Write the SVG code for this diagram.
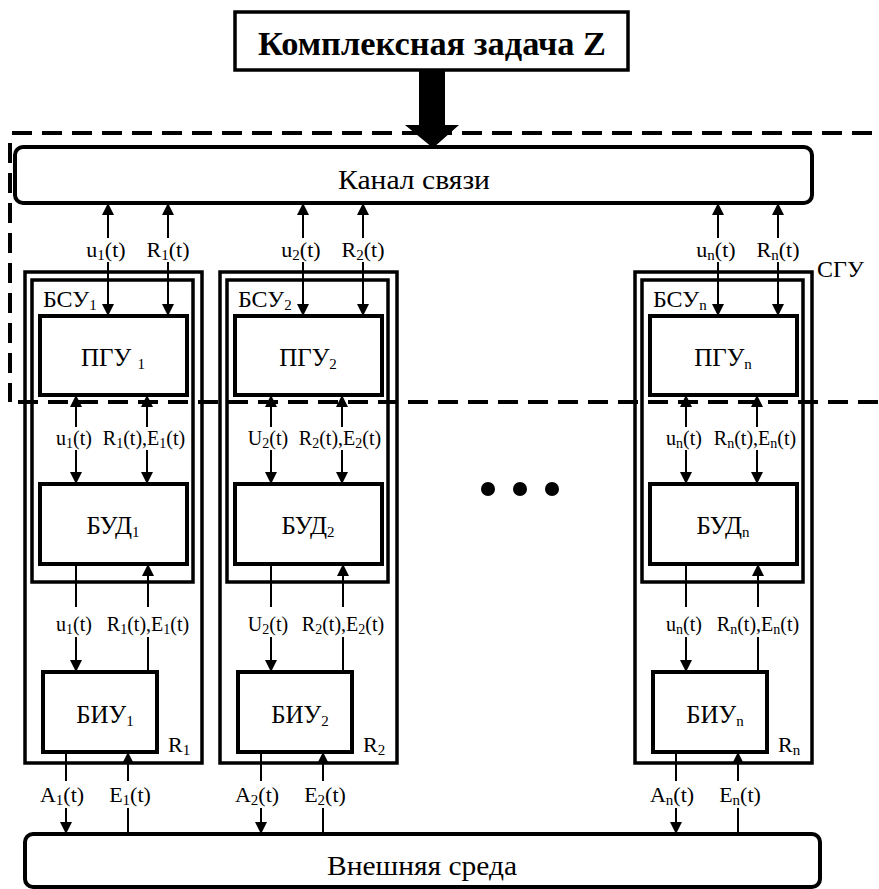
<svg xmlns="http://www.w3.org/2000/svg" width="879" height="889" viewBox="0 0 879 889">
<style>
text{font-family:"Liberation Serif","Times New Roman",serif;fill:#000}
.lbl{font-size:22px;text-anchor:middle}
.lbs{font-size:20px;text-anchor:middle}
.box{fill:#fff;stroke:#000;stroke-width:4}
.frame{fill:none;stroke:#000;stroke-width:3.5}
.bl{font-size:25px;text-anchor:middle}
.sub{font-size:15px}
.sb{font-size:14px}
.ln{stroke:#000;stroke-width:2;fill:none}
.ar{stroke:#000;stroke-width:2;fill:none;marker-end:url(#ah)}
.dash{stroke:#000;stroke-width:4;fill:none;stroke-dasharray:20 10}
</style>
<defs>
<marker id="ah" markerUnits="userSpaceOnUse" markerWidth="12" markerHeight="12" refX="12" refY="6" orient="auto">
<path d="M0,0 L12,6 L0,12 z" fill="#000"/>
</marker>
</defs>
<rect width="879" height="889" fill="#fff"/>

<g id="task">
<rect x="235" y="12" width="393" height="58" fill="#fff" stroke="#000" stroke-width="3.5"/>
<text x="258" y="55" font-size="33" font-weight="bold" textLength="348" lengthAdjust="spacingAndGlyphs">Комплексная задача Z</text>
</g>

<g id="channel">
<rect x="15" y="147" width="797" height="56" rx="8" class="box"/>
<text x="414" y="189" font-size="27" text-anchor="middle" textLength="152" lengthAdjust="spacingAndGlyphs">Канал связи</text>
</g>

<g id="environment">
<rect x="25" y="834" width="795" height="53" rx="8" class="box"/>
<text x="422" y="875" font-size="28" text-anchor="middle" textLength="190" lengthAdjust="spacingAndGlyphs">Внешняя среда</text>
</g>

<g id="col1">
<rect x="25" y="272" width="177" height="491" class="frame"/>
<rect x="32" y="280" width="161" height="302" class="frame"/>
<text x="43" y="307" font-size="24">БСУ<tspan class="sub" dy="3">1</tspan></text>
<rect x="40" y="316" width="147" height="79" class="box"/>
<text x="113" y="366" class="bl">ПГУ <tspan class="sub" dy="3">1</tspan></text>
<rect x="40" y="484" width="147" height="80" class="box"/>
<text x="113" y="534" class="bl">БУД<tspan class="sub" dy="3">1</tspan></text>
<rect x="43" y="672" width="114" height="80" class="box"/>
<text x="105" y="723" class="bl">БИУ<tspan class="sub" dy="3">1</tspan></text>
<text x="168" y="752" font-size="22">R<tspan class="sub" dy="3">1</tspan></text>
</g>

<g id="col2">
<rect x="220" y="272" width="177" height="491" class="frame"/>
<rect x="227" y="280" width="161" height="302" class="frame"/>
<text x="238" y="307" font-size="24">БСУ<tspan class="sub" dy="3">2</tspan></text>
<rect x="235" y="316" width="147" height="79" class="box"/>
<text x="308" y="366" class="bl">ПГУ<tspan class="sub" dy="3">2</tspan></text>
<rect x="235" y="484" width="147" height="80" class="box"/>
<text x="308" y="534" class="bl">БУД<tspan class="sub" dy="3">2</tspan></text>
<rect x="238" y="672" width="114" height="80" class="box"/>
<text x="300" y="723" class="bl">БИУ<tspan class="sub" dy="3">2</tspan></text>
<text x="363" y="752" font-size="22">R<tspan class="sub" dy="3">2</tspan></text>
</g>

<g id="coln">
<rect x="635" y="272" width="177" height="491" class="frame"/>
<rect x="642" y="280" width="161" height="302" class="frame"/>
<text x="653" y="307" font-size="24">БСУ<tspan class="sub" dy="3">n</tspan></text>
<rect x="650" y="316" width="147" height="79" class="box"/>
<text x="723" y="366" class="bl">ПГУ<tspan class="sub" dy="3">n</tspan></text>
<rect x="650" y="484" width="147" height="80" class="box"/>
<text x="723" y="534" class="bl">БУД<tspan class="sub" dy="3">n</tspan></text>
<rect x="653" y="672" width="114" height="80" class="box"/>
<text x="715" y="723" class="bl">БИУ<tspan class="sub" dy="3">n</tspan></text>
<text x="778" y="752" font-size="22">R<tspan class="sub" dy="3">n</tspan></text>
</g>

<g id="sgu-label">
<text x="817" y="277" font-size="24">СГУ</text>
</g>

<g id="ellipsis">
<circle cx="488" cy="489" r="7"/>
<circle cx="520" cy="489" r="7"/>
<circle cx="552" cy="489" r="7"/>
</g>

<g id="connectors">
<polygon points="419,70 445,70 445,125 459,125 433,148 405,125 419,125" fill="#000"/>
<line x1="108" y1="238" x2="108" y2="203" class="ar"/>
<line x1="108" y1="262" x2="108" y2="316" class="ar"/>
<line x1="168" y1="238" x2="168" y2="203" class="ar"/>
<line x1="168" y1="262" x2="168" y2="316" class="ar"/>
<line x1="76" y1="427" x2="76" y2="395" class="ar"/>
<line x1="76" y1="450" x2="76" y2="484" class="ar"/>
<line x1="147" y1="427" x2="147" y2="395" class="ar"/>
<line x1="147" y1="450" x2="147" y2="484" class="ar"/>
<line x1="76" y1="564" x2="76" y2="607" class="ln"/>
<line x1="76" y1="637" x2="76" y2="672" class="ar"/>
<line x1="148" y1="672" x2="148" y2="637" class="ln"/>
<line x1="148" y1="607" x2="148" y2="564" class="ar"/>
<line x1="66" y1="752" x2="66" y2="781" class="ln"/>
<line x1="66" y1="808" x2="66" y2="834" class="ar"/>
<line x1="128" y1="834" x2="128" y2="808" class="ln"/>
<line x1="128" y1="781" x2="128" y2="752" class="ar"/>
<line x1="303" y1="238" x2="303" y2="203" class="ar"/>
<line x1="303" y1="262" x2="303" y2="316" class="ar"/>
<line x1="363" y1="238" x2="363" y2="203" class="ar"/>
<line x1="363" y1="262" x2="363" y2="316" class="ar"/>
<line x1="271" y1="427" x2="271" y2="395" class="ar"/>
<line x1="271" y1="450" x2="271" y2="484" class="ar"/>
<line x1="342" y1="427" x2="342" y2="395" class="ar"/>
<line x1="342" y1="450" x2="342" y2="484" class="ar"/>
<line x1="271" y1="564" x2="271" y2="607" class="ln"/>
<line x1="271" y1="637" x2="271" y2="672" class="ar"/>
<line x1="343" y1="672" x2="343" y2="637" class="ln"/>
<line x1="343" y1="607" x2="343" y2="564" class="ar"/>
<line x1="261" y1="752" x2="261" y2="781" class="ln"/>
<line x1="261" y1="808" x2="261" y2="834" class="ar"/>
<line x1="323" y1="834" x2="323" y2="808" class="ln"/>
<line x1="323" y1="781" x2="323" y2="752" class="ar"/>
<line x1="718" y1="238" x2="718" y2="203" class="ar"/>
<line x1="718" y1="262" x2="718" y2="316" class="ar"/>
<line x1="778" y1="238" x2="778" y2="203" class="ar"/>
<line x1="778" y1="262" x2="778" y2="316" class="ar"/>
<line x1="686" y1="427" x2="686" y2="395" class="ar"/>
<line x1="686" y1="450" x2="686" y2="484" class="ar"/>
<line x1="757" y1="427" x2="757" y2="395" class="ar"/>
<line x1="757" y1="450" x2="757" y2="484" class="ar"/>
<line x1="686" y1="564" x2="686" y2="607" class="ln"/>
<line x1="686" y1="637" x2="686" y2="672" class="ar"/>
<line x1="758" y1="672" x2="758" y2="637" class="ln"/>
<line x1="758" y1="607" x2="758" y2="564" class="ar"/>
<line x1="676" y1="752" x2="676" y2="781" class="ln"/>
<line x1="676" y1="808" x2="676" y2="834" class="ar"/>
<line x1="738" y1="834" x2="738" y2="808" class="ln"/>
<line x1="738" y1="781" x2="738" y2="752" class="ar"/>
</g>

<g id="boundaries">
<line x1="12" y1="133" x2="879" y2="133" class="dash"/>
<line x1="10" y1="143" x2="10" y2="402" class="dash" stroke-dasharray="18 9" stroke-width="3"/>
<line x1="18" y1="402" x2="879" y2="402" class="dash"/>
</g>

<g id="labels">
<text x="106" y="257" class="lbl">u<tspan class="sub" dy="3">1</tspan><tspan dy="-3">(t)</tspan></text>
<text x="168" y="257" class="lbl">R<tspan class="sub" dy="3">1</tspan><tspan dy="-3">(t)</tspan></text>
<text x="74" y="445" class="lbs">u<tspan class="sb" dy="3">1</tspan><tspan dy="-3">(t)</tspan></text>
<text x="144" y="445" class="lbs">R<tspan class="sb" dy="3">1</tspan><tspan dy="-3">(t),E</tspan><tspan class="sb" dy="3">1</tspan><tspan dy="-3">(t)</tspan></text>
<text x="74" y="631" class="lbs">u<tspan class="sb" dy="3">1</tspan><tspan dy="-3">(t)</tspan></text>
<text x="148" y="631" class="lbs">R<tspan class="sb" dy="3">1</tspan><tspan dy="-3">(t),E</tspan><tspan class="sb" dy="3">1</tspan><tspan dy="-3">(t)</tspan></text>
<text x="62" y="802" class="lbl">A<tspan class="sub" dy="3">1</tspan><tspan dy="-3">(t)</tspan></text>
<text x="130" y="802" class="lbl">E<tspan class="sub" dy="3">1</tspan><tspan dy="-3">(t)</tspan></text>

<text x="301" y="257" class="lbl">u<tspan class="sub" dy="3">2</tspan><tspan dy="-3">(t)</tspan></text>
<text x="363" y="257" class="lbl">R<tspan class="sub" dy="3">2</tspan><tspan dy="-3">(t)</tspan></text>
<text x="268" y="445" class="lbs">U<tspan class="sb" dy="3">2</tspan><tspan dy="-3">(t)</tspan></text>
<text x="340" y="445" class="lbs">R<tspan class="sb" dy="3">2</tspan><tspan dy="-3">(t),E</tspan><tspan class="sb" dy="3">2</tspan><tspan dy="-3">(t)</tspan></text>
<text x="268" y="631" class="lbs">U<tspan class="sb" dy="3">2</tspan><tspan dy="-3">(t)</tspan></text>
<text x="343" y="631" class="lbs">R<tspan class="sb" dy="3">2</tspan><tspan dy="-3">(t),E</tspan><tspan class="sb" dy="3">2</tspan><tspan dy="-3">(t)</tspan></text>
<text x="257" y="802" class="lbl">A<tspan class="sub" dy="3">2</tspan><tspan dy="-3">(t)</tspan></text>
<text x="325" y="802" class="lbl">E<tspan class="sub" dy="3">2</tspan><tspan dy="-3">(t)</tspan></text>

<text x="716" y="257" class="lbl">u<tspan class="sub" dy="3">n</tspan><tspan dy="-3">(t)</tspan></text>
<text x="778" y="257" class="lbl">R<tspan class="sub" dy="3">n</tspan><tspan dy="-3">(t)</tspan></text>
<text x="684" y="445" class="lbs">u<tspan class="sb" dy="3">n</tspan><tspan dy="-3">(t)</tspan></text>
<text x="755" y="445" class="lbs">R<tspan class="sb" dy="3">n</tspan><tspan dy="-3">(t),E</tspan><tspan class="sb" dy="3">n</tspan><tspan dy="-3">(t)</tspan></text>
<text x="684" y="631" class="lbs">u<tspan class="sb" dy="3">n</tspan><tspan dy="-3">(t)</tspan></text>
<text x="758" y="631" class="lbs">R<tspan class="sb" dy="3">n</tspan><tspan dy="-3">(t),E</tspan><tspan class="sb" dy="3">n</tspan><tspan dy="-3">(t)</tspan></text>
<text x="672" y="802" class="lbl">A<tspan class="sub" dy="3">n</tspan><tspan dy="-3">(t)</tspan></text>
<text x="740" y="802" class="lbl">E<tspan class="sub" dy="3">n</tspan><tspan dy="-3">(t)</tspan></text>
</g>
</svg>
